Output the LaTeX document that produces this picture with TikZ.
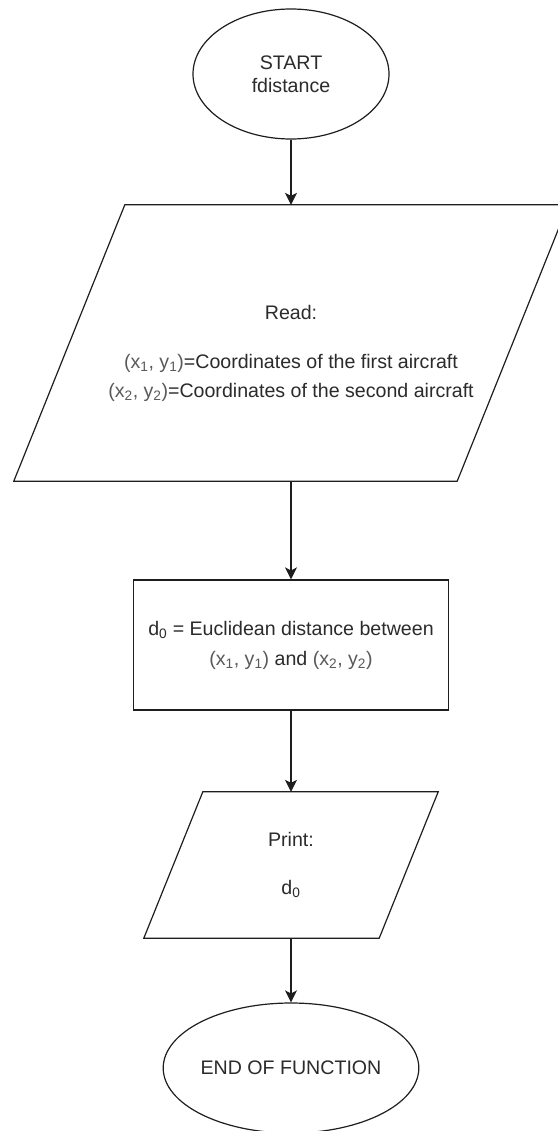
\documentclass[tikz,border=0pt]{standalone}
\usepackage{fontspec}
\setmainfont{Liberation Sans}
\usetikzlibrary{arrows.meta,shapes.geometric}
\definecolor{txt}{HTML}{2B2B2B}
\definecolor{lite}{HTML}{5A5A5A}
\definecolor{edge}{HTML}{1E1E1E}
\tikzset{
  term/.style={ellipse, draw=edge, line width=1.2pt, minimum width=196pt, minimum height=130pt, inner sep=0pt, text=txt, align=center, font=\fontsize{19.6}{23}\selectfont},
  io/.style={rectangle, inner sep=0pt, text=txt, align=center, font=\fontsize{19.6}{29}\selectfont},
  procbox/.style={rectangle, draw=edge, line width=1.2pt, inner sep=0pt, text=txt, align=center, font=\fontsize{19.6}{30}\selectfont},
  para/.style={draw=edge, line width=1.2pt},
  flow/.style={draw=edge, line width=1.2pt, -{Stealth[length=12pt,width=12pt,inset=3pt]}},
}
\newcommand{\lt}[1]{\textcolor{lite}{#1}}
\begin{document}
\begin{tikzpicture}[x=1pt,y=-1pt]
\useasboundingbox (0,0) rectangle (557,1131);
\fill[white] (0,0) rectangle (557,1131);

\node[term] (start) at (291,74) {START\\fdistance};

\node[io, minimum width=443pt, minimum height=276pt] (read) at (291,343) {};
\draw[para] ([xshift=55.5pt]read.north west) -- ([xshift=55.5pt]read.north east)
  -- ([xshift=-55.5pt]read.south east) -- ([xshift=-55.5pt]read.south west) -- cycle;
\node[io] (readtxt) at (291,353) {Read:\\[20pt]\lt{(x\textsubscript{1}, y\textsubscript{1})}=Coordinates of the first aircraft\\\lt{(x\textsubscript{2}, y\textsubscript{2})}=Coordinates of the second aircraft};

\node[procbox, minimum width=315pt, minimum height=130pt] (calc) at (291,645) {d\textsubscript{0} = Euclidean distance between\\\lt{(x\textsubscript{1}, y\textsubscript{1})} and \lt{(x\textsubscript{2}, y\textsubscript{2})}};

\node[io, minimum width=235pt, minimum height=146pt] (print) at (291,865) {};
\draw[para] ([xshift=29.5pt]print.north west) -- ([xshift=29.5pt]print.north east)
  -- ([xshift=-29.5pt]print.south east) -- ([xshift=-29.5pt]print.south west) -- cycle;
\node[io, font=\fontsize{19.6}{48}\selectfont] (printtxt) at (291,865) {Print:\\d\textsubscript{0}};

\node[term] (end) at (291,1068) {END OF FUNCTION};

\draw[flow] (start.south) -- (read.north);
\draw[flow] (read.south) -- (calc.north);
\draw[flow] (calc.south) -- (print.north);
\draw[flow] (print.south) -- (end.north);
\end{tikzpicture}
\end{document}
